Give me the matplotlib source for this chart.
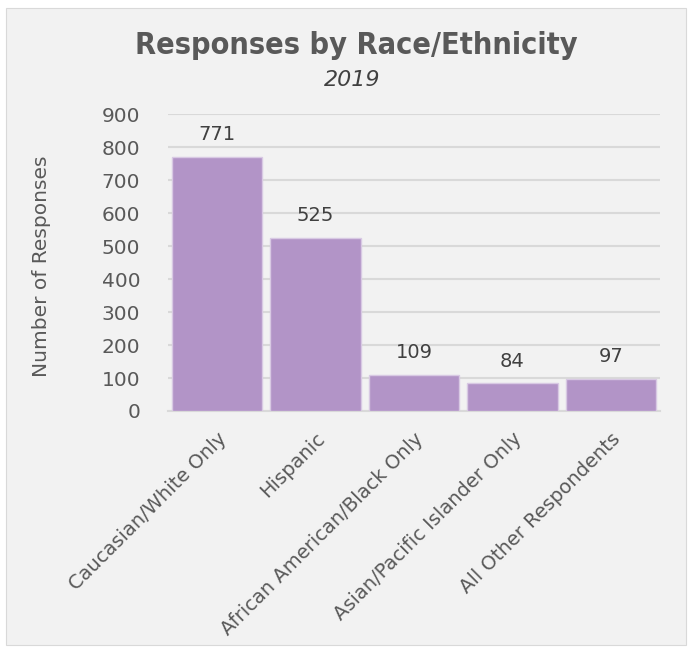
import matplotlib
matplotlib.use("Agg")
import matplotlib.pyplot as plt
from matplotlib.patches import Rectangle

categories = [
    "Caucasian/White Only",
    "Hispanic",
    "African American/Black Only",
    "Asian/Pacific Islander Only",
    "All Other Respondents",
]
responses = [771, 525, 109, 84, 97]
y_ticks = [0, 100, 200, 300, 400, 500, 600, 700, 800, 900]

text_color = "#595959"
bar_color = "#B294C7"
grid_color = "#D9D9D9"
panel_color = "#F2F2F2"

plt.rcParams["font.family"] = ["DejaVu Sans"]

fig = plt.figure(figsize=(6.91, 6.52), dpi=100)
fig.patch.set_facecolor("white")
fig.patches.append(Rectangle((6 / 691, 7 / 652), 680 / 691, 637 / 652,
                             transform=fig.transFigure, facecolor=panel_color,
                             edgecolor=grid_color, linewidth=0.8, zorder=-1))

# plot area in pixels: x 168..660, y 114..411
ax = fig.add_axes([168 / 691, 1 - 411 / 652, 492 / 691, 297 / 652])
ax.patch.set_alpha(0)

x = list(range(len(categories)))
bars = ax.bar(x, responses, width=0.92, color=bar_color,
              edgecolor="#D8C9E3", linewidth=1, zorder=3)

for b, v in zip(bars, responses):
    ax.annotate(str(v), (b.get_x() + b.get_width() / 2, v), xytext=(0, 12),
                textcoords="offset points", ha="center", va="baseline",
                fontsize=14, color="#404040", zorder=4)

ax.set_xlim(-0.5, len(categories) - 0.5)
ax.set_ylim(0, 900)
ax.set_yticks(y_ticks)
ax.set_yticklabels([str(t) for t in y_ticks], fontsize=14.5, color=text_color)
ax.set_xticks(x)
ax.set_xticklabels(categories, rotation=45, ha="right", rotation_mode="anchor",
                   fontsize=14, color=text_color)
ax.tick_params(axis="both", length=0)
ax.tick_params(axis="x", pad=13)
ax.tick_params(axis="y", pad=20)
ax.yaxis.grid(True, color=grid_color, linewidth=1.5, zorder=0)
ax.set_axisbelow(True)
for side in ["top", "right", "left"]:
    ax.spines[side].set_visible(False)
ax.spines["bottom"].set_color(grid_color)
ax.spines["bottom"].set_linewidth(1.5)

fig.text(42 / 691, 1 - 266 / 652, "Number of Responses", rotation=90,
         ha="center", va="center", fontsize=14.5, color=text_color)

fig.text(356 / 691, 1 - 46 / 652, "Responses by Race/Ethnicity", ha="center",
         va="center", fontsize=22, fontweight="bold", fontstretch="condensed",
         color=text_color)
fig.text(352 / 691, 1 - 80 / 652, "2019", ha="center", va="center",
         fontsize=16, fontstyle="italic", color="#404040")

fig.savefig("out.png", dpi=100)
